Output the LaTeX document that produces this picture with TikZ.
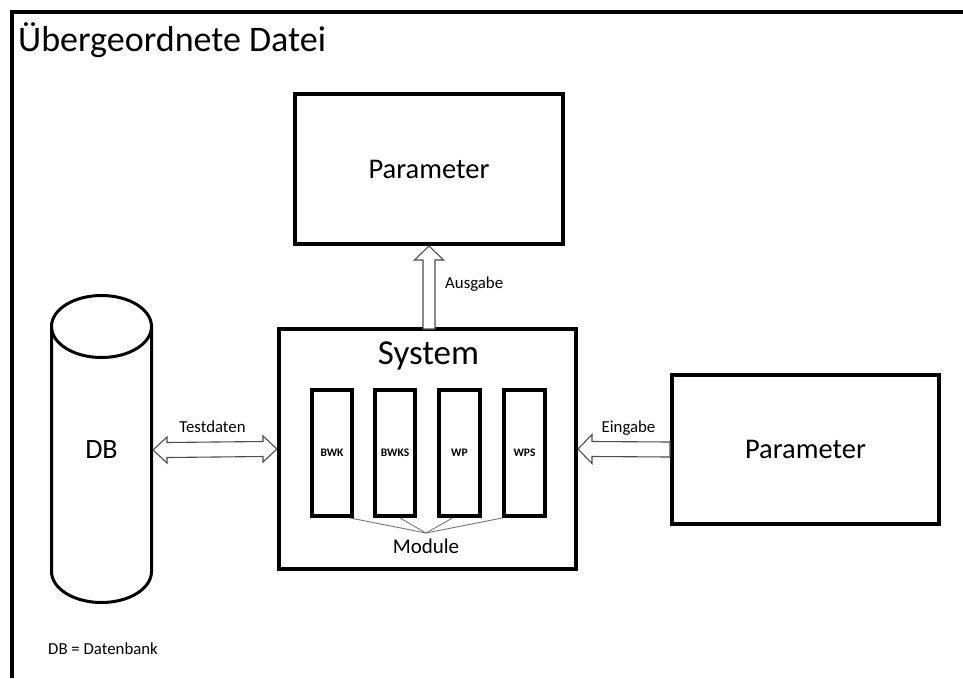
\documentclass[tikz,border=0pt]{standalone}
\usepackage{fontspec}
\setmainfont{Carlito}
\usetikzlibrary{calc}
\tikzset{
  box/.style={draw, rectangle, line width=4pt, inner sep=0pt, outer sep=2pt},
  modbox/.style={draw, rectangle, line width=4pt, minimum width=40.5pt, minimum height=126pt,
    inner sep=0pt, outer sep=2pt, font=\fontsize{11.5}{13}\selectfont\bfseries},
  blockarrow/.style={draw=black!70, fill=white, line width=1.1pt, line join=miter},
  lbl/.style={font=\fontsize{16.8}{20}\selectfont, inner sep=0pt},
  thinline/.style={draw=black!55, line width=0.9pt},
}
\begin{document}
\begin{tikzpicture}[x=1pt,y=-1pt]
\useasboundingbox (0,0) rectangle (963,678);
% outer frame
\draw[line width=4.5pt] (12,678) -- (12,12) -- (963,12);
\node[anchor=base west, inner sep=0pt, font=\fontsize{36}{42}\selectfont] (title) at (18,51) {Übergeordnete Datei};

% boxes
\node[box, minimum width=268pt, minimum height=150pt, font=\fontsize{28.5}{34}\selectfont] (par1) at (429,169) {Parameter};
\node[box, minimum width=297pt, minimum height=240pt] (sys) at (427.5,449) {};
\node[anchor=base, inner sep=0pt, font=\fontsize{35}{42}\selectfont] (systitle) at (428.5,364) {System};
\node[box, minimum width=267pt, minimum height=149pt, font=\fontsize{28.5}{34}\selectfont] (par2) at (805.5,449.5) {Parameter};

% modules
\node[modbox] (m1) at (332,453) {BWK};
\node[modbox] (m2) at (395,453) {BWKS};
\node[modbox] (m3) at (459.5,453) {WP};
\node[modbox] (m4) at (524.5,453) {WPS};
\coordinate (mj) at (426,533);
\node[anchor=base, inner sep=0pt, font=\fontsize{21}{25}\selectfont] (module) at (426,553) {Module};
\draw[thinline] ([xshift=-4pt]m1.south east) -- (mj);
\draw[thinline] ([xshift=5pt]m2.south) -- (mj);
\draw[thinline] ([xshift=-7pt]m3.south) -- (mj);
\draw[thinline] (m4.south west) -- (mj);

% database cylinder
\node[inner sep=0pt, outer sep=1.5pt, minimum width=100pt, minimum height=200pt,
  font=\fontsize{28}{33}\selectfont] (db) at (101.5,450) {DB};
\draw[line width=3pt] (51.5,326.5) -- (51.5,571.5)
  arc[start angle=180, end angle=360, x radius=50pt, y radius=31pt] -- (151.5,326.5);
\draw[line width=3pt] (101.5,326.5) ellipse [x radius=50pt, y radius=31pt];
\node[anchor=base west, lbl] (legend) at (48,654) {DB = Datenbank};

% block arrows
\coordinate (ab) at (par1.south |- sys.north);
\draw[blockarrow] (par1.south) -- ($(par1.south)+(14.5,14)$) -- ($(par1.south)+(6,14)$)
  -- ($(ab)+(6,2)$) -- ($(ab)+(-6,2)$)
  -- ($(par1.south)+(-6,14)$) -- ($(par1.south)+(-14.5,14)$) -- cycle;
\node[anchor=base west, lbl] (ausgabe) at (445,288) {Ausgabe};

\draw[blockarrow] (db.east) -- ($(db.east)+(14,-13)$) -- ($(db.east)+(14,-7.5)$)
  -- ($(sys.west)+(-14,-7.5)$) -- ($(sys.west)+(-14,-13)$) -- (sys.west)
  -- ($(sys.west)+(-14,13)$) -- ($(sys.west)+(-14,7.5)$)
  -- ($(db.east)+(14,7.5)$) -- ($(db.east)+(14,13)$) -- cycle;
\node[anchor=base, lbl] (testdaten) at (212.5,432) {Testdaten};

\draw[blockarrow] (sys.east) -- ($(sys.east)+(14,-14.5)$) -- ($(sys.east)+(14,-7.5)$)
  -- ($(par2.west)+(0,-7.5)$) -- ($(par2.west)+(0,7.5)$)
  -- ($(sys.east)+(14,7.5)$) -- ($(sys.east)+(14,14.5)$) -- cycle;
\node[anchor=base, lbl] (eingabe) at (628.5,432) {Eingabe};
\end{tikzpicture}
\end{document}
